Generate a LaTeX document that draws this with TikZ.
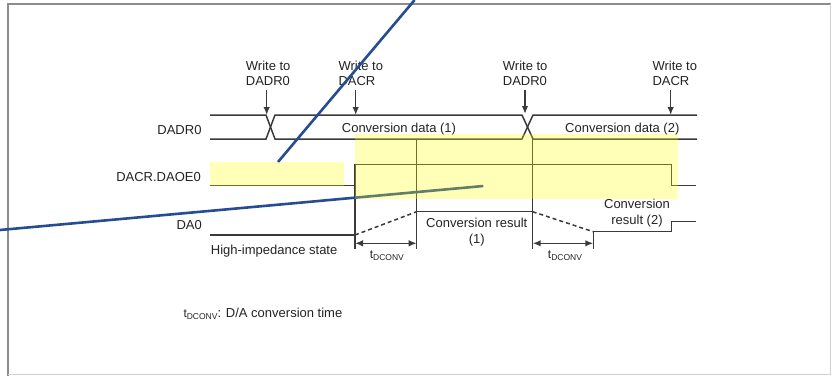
\documentclass[tikz,border=0pt]{standalone}
\usepackage{fontspec}
\setmainfont{Liberation Sans}
\usepackage{tikz}
\usetikzlibrary{arrows.meta}

\definecolor{penblue}{RGB}{38,76,146}
\definecolor{markyellow}{RGB}{255,255,0}
\definecolor{linegray}{RGB}{58,58,58}
\definecolor{txtgray}{RGB}{35,35,35}
\newcommand{\tconv}{{\fontsize{12}{12}\selectfont t}\raisebox{-2.5pt}{\fontsize{8.5}{9}\selectfont DCONV}}

\begin{document}
\begin{tikzpicture}[x=1pt,y=-1pt,
    sig/.style={linegray,line width=1.5pt},
    lbl/.style={inner sep=0pt,text=txtgray,font=\fontsize{13}{15.5}\selectfont},
    wrarrow/.style={sig,-{Latex[length=8pt,width=6.5pt]}},
    dimarrow/.style={sig,{Latex[length=8pt,width=6.5pt]}-{Latex[length=8pt,width=6.5pt]}},
    hilite/.style={fill=markyellow,fill opacity=0.28},
    penstroke/.style={penblue,line width=2.6pt}]
            \useasboundingbox(0,0)rectangle(831,376);
            % Frame
            \draw[black!45,line width=2pt](7.5,376)--(7.5,4.3)--(831,4.3);
            \draw[black!18,line width=1pt](7.5,374.7)--(830,374.7)--(830,4.3);
            % Write markers
            \node[lbl,anchor=base west,align=left](wr1)at(245.7,85.5){Write to\\DADR0};
            \node[lbl,anchor=base west,align=left](wr2)at(338.3,85.5){Write to\\DACR};
            \node[lbl,anchor=base west,align=left](wr3)at(502.7,85.5){Write to\\DADR0};
            \node[lbl,anchor=base west,align=left](wr4)at(652.3,85.5){Write to\\DACR};
            \draw[wrarrow](266.7,90)coordinate[](w1a)--(266.7,115)coordinate[](w1b);
            \draw[wrarrow](355.7,90)coordinate[](w2a)--(355.7,115)coordinate[](w2b);
            \draw[wrarrow](525,90)coordinate[](w3a)--(525,114)coordinate[](w3b);
            \draw[wrarrow](670.7,90)coordinate[](w4a)--(670.7,115)coordinate[](w4b);
            % Signal names
            \node[lbl,anchor=base east](nDADR)at(201.7,134){DADR0};
            \node[lbl,anchor=base east](nDAOE)at(201,181){DACR.DAOE0};
            \node[lbl,anchor=base east](nDA)at(202,229){DA0};
            % DADR0 bus
            \draw[sig](210,115)--(266,115)--(275,139)--(522,139)--(533,115)--(697,115);
            \draw[sig](210,139)--(266,139)--(275,115)--(522,115)--(533,139)--(697,139);
            \node[lbl,anchor=base west](cd1)at(341.7,132.5){Conversion data (1)};
            \node[lbl,anchor=base west](cd2)at(565,132.5){Conversion data (2)};
            % DACR.DAOE0
            \draw[sig](210,185.7)--(355,185.7)--(355,164.3)coordinate[](oeA)--(671.7,164.3)--(671.7,185.7)--(696,185.7);
            % DA0
            \draw[sig](210,235)--(355,235)coordinate[](daA);
            \draw[sig,dash pattern=on 4pt off 3pt](daA)--(416.7,211.7)coordinate[](daB);
            \draw[sig](daB)--(532.7,211.7)coordinate[](daC);
            \draw[sig,dash pattern=on 4pt off 3pt](daC)--(593.3,231.7)coordinate[](daD);
            \draw[sig](daD)--(671.7,231.7)--(671.7,221.7)--(696,221.7);
            \node[lbl,anchor=base west](hiz)at(210.7,254.3){High-impedance state};
            \node[lbl,anchor=base,align=center,font=\fontsize{13}{16.2}\selectfont](cr1)at(476.8,243.5){Conversion result\\(1)};
            \node[lbl,anchor=base,align=center](cr2)at(637,224){Conversion\\result (2)};
            % Conversion time
            \draw[sig](oeA)--(355,249.3);
            \draw[sig](416.7,139)--(416.7,249.3);
            \draw[sig](532.7,139)--(532.7,249.3);
            \draw[sig](daD)--(593.3,249.3);
            \draw[dimarrow](355,243.3)--(416.7,243.3);
            \draw[dimarrow](532.7,243.3)--(593.3,243.3);
            \node[lbl,anchor=base](tc1)at(386.8,258){\tconv};
            \node[lbl,anchor=base](tc2)at(565,258){\tconv};
            \node[lbl,anchor=base west](foot)at(183.3,317.3){\tconv: D/A conversion time};
            % Pen strokes
            \draw[penstroke](414.6,0)--(278,162);
            \draw[penstroke](0,230)--(483.3,186);
            % Highlights
            \fill[hilite](210,162.3)rectangle(344,185.7);
            \fill[hilite](355,134)rectangle(678,199.3);
        \end{tikzpicture}
\end{document}
